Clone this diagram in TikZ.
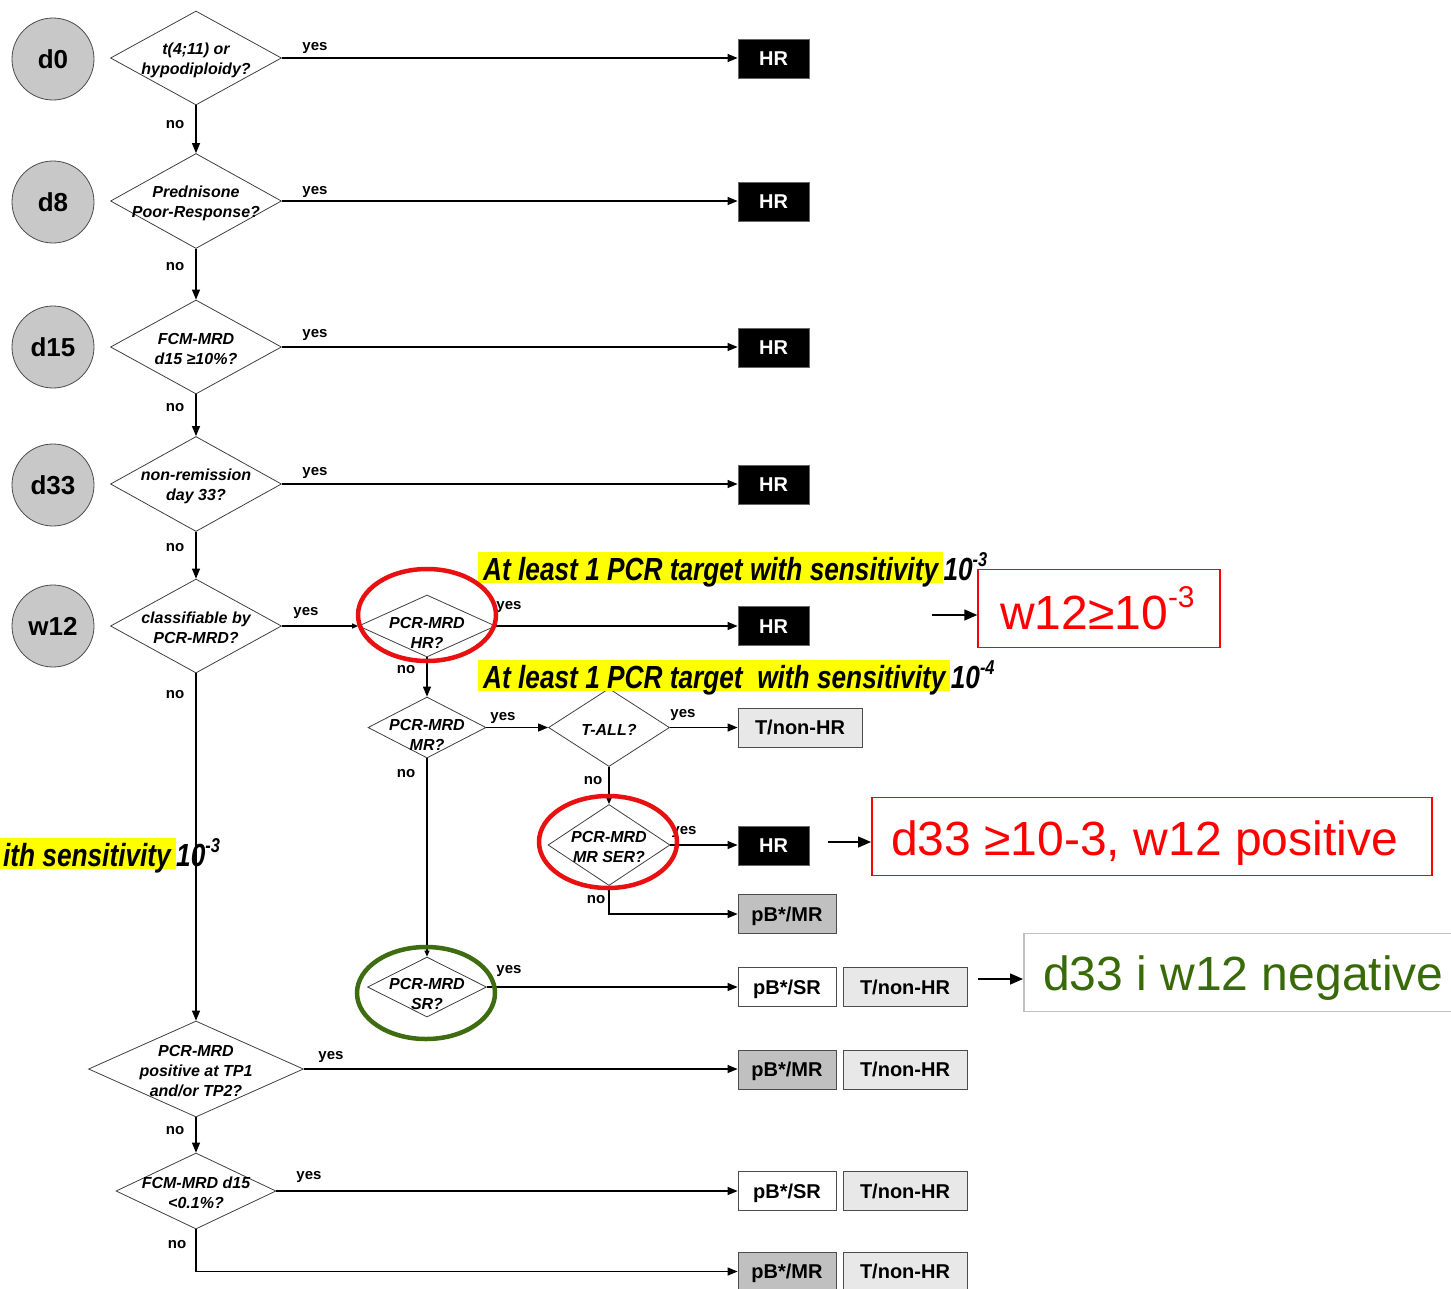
\documentclass[tikz,border=0pt]{standalone}
\usepackage{fontspec}
\setmainfont{Liberation Sans}
\newfontfamily\narrowfam[FakeStretch=0.82]{Liberation Sans}
\usetikzlibrary{shapes.geometric,arrows.meta}
\definecolor{circgray}{RGB}{200,200,200}
\definecolor{boxgray}{RGB}{192,192,192}
\definecolor{lightbox}{RGB}{232,232,232}
\definecolor{ringred}{RGB}{232,16,16}
\definecolor{txtred}{RGB}{255,0,0}
\definecolor{txtgreen}{RGB}{56,106,8}
\definecolor{ringgreen}{RGB}{62,108,16}
\definecolor{hlyellow}{RGB}{255,255,0}
\newcommand{\supm}[1]{\raisebox{0.42em}{\fontsize{20}{20}\selectfont #1}}
\newcommand{\supbig}[1]{\raisebox{0.45em}{\fontsize{30}{30}\selectfont #1}}
\tikzset{
  stage/.style={circle, draw=black!70, fill=circgray, line width=0.8pt, minimum size=82pt, inner sep=0pt,
    font=\fontsize{26}{26}\selectfont\bfseries},
  dia/.style={diamond, draw=black!75, line width=0.8pt, inner sep=0pt, fill=white},
  qtext/.style={font=\fontsize{16}{20}\selectfont\bfseries\itshape, align=center, inner sep=0pt, yshift=-2pt},
  conn/.style={line width=1.2pt, -{Triangle[length=10pt,width=8pt]}},
  connsmall/.style={line width=1.2pt, -{Triangle[length=6pt,width=5pt]}},
  bigarrow/.style={line width=1.6pt, -{Triangle[length=13pt,width=11pt]}},
  lbl/.style={font=\fontsize{15}{15}\selectfont\bfseries, inner sep=0pt, text height=8pt, text depth=0pt},
  hrbox/.style={rectangle, draw=black!60, fill=black, text=white, line width=0.8pt, minimum width=71pt, minimum height=39pt,
    inner sep=0pt, text height=14.5pt, text depth=0pt, font=\fontsize{20}{20}\selectfont\bfseries},
  resbox/.style={rectangle, draw=black!70, line width=0.8pt, minimum height=39pt, inner sep=0pt,
    text height=14.5pt, text depth=0pt, font=\fontsize{20}{20}\selectfont\bfseries},
  pbmr/.style={resbox, fill=boxgray, minimum width=98pt},
  pbsr/.style={resbox, fill=white, minimum width=98pt},
  tnon/.style={resbox, fill=lightbox, minimum width=124pt},
  hl/.style={fill=hlyellow, inner xsep=5pt, inner ysep=0pt, text height=28pt, text depth=3pt,
    font=\narrowfam\fontsize{32}{32}\selectfont\bfseries\itshape},
  hlend/.style={inner sep=0pt, font=\narrowfam\fontsize{32}{32}\selectfont\bfseries\itshape},
  ring/.style={ellipse, draw=ringred, line width=4.5pt, minimum width=138pt, minimum height=92pt, inner sep=0pt},
  note/.style={rectangle, line width=1.5pt, minimum height=78pt, inner sep=0pt},
  notetext/.style={inner sep=0pt, anchor=base west, font=\fontsize{48}{48}\selectfont}
}
\begin{document}
\begin{tikzpicture}[x=1pt,y=-1pt]
\clip (0,0) rectangle (1451,1288);
\fill[white] (0,0) rectangle (1451,1288);

% stage circles
\node[stage] (c0) at (53,59) {d0};
\node[stage] (c8) at (53,202) {d8};
\node[stage] (c15) at (53,347) {d15};
\node[stage] (c33) at (53,485) {d33};
\node[stage] (cw) at (53,626) {w12};

% decision diamonds
\node[dia, minimum width=171pt, minimum height=94pt, label={[qtext]center:{t(4;11) or\\hypodiploidy?}}] (q0) at (196,58) {};
\node[dia, minimum width=171pt, minimum height=95pt, label={[qtext]center:{Prednisone\\Poor-Response?}}] (q8) at (196,201) {};
\node[dia, minimum width=171pt, minimum height=94pt, label={[qtext]center:{FCM-MRD\\d15 ≥10\%?}}] (q15) at (196,347) {};
\node[dia, minimum width=171pt, minimum height=95pt, label={[qtext]center:{non-remission\\day 33?}}] (q33) at (196,484) {};
\node[dia, minimum width=171pt, minimum height=94pt, label={[qtext]center:{classifiable by\\PCR-MRD?}}] (qw) at (196,626) {};
\node[dia, minimum width=137pt, minimum height=62pt, label={[qtext,yshift=-5pt]center:{PCR-MRD\\HR?}}] (qhr) at (427,626) {};
\node[dia, minimum width=118pt, minimum height=61pt, label={[qtext,yshift=-5pt]center:{PCR-MRD\\MR?}}] (qmr) at (427,727.5) {};
\node[dia, minimum width=121pt, minimum height=78pt, label={[qtext]center:{T-ALL?}}] (qtall) at (609,727.5) {};
\node[dia, minimum width=122pt, minimum height=81pt, label={[qtext]center:{PCR-MRD\\MR SER?}}] (qser) at (609,845) {};
\node[dia, minimum width=119pt, minimum height=60pt, label={[qtext,yshift=-5pt]center:{PCR-MRD\\SR?}}] (qsr) at (427,987) {};
\node[dia, minimum width=215pt, minimum height=96pt, label={[qtext]center:{PCR-MRD\\positive at TP1\\and/or TP2?}}] (qpos) at (196,1069) {};
\node[dia, minimum width=160pt, minimum height=76pt, label={[qtext]center:{FCM-MRD d15\\<0.1\%?}}] (qfcm) at (196,1191) {};

% result boxes
\node[hrbox] (hr0) at (773.5,58.5) {HR};
\node[hrbox] (hr8) at (773.5,201.5) {HR};
\node[hrbox] (hr15) at (773.5,347.5) {HR};
\node[hrbox] (hr33) at (773.5,484.5) {HR};
\node[hrbox] (hrw) at (773.5,626) {HR};
\node[hrbox] (hrser) at (773.5,845.5) {HR};
\node[tnon] (tn1) at (800,727.5) {T/non-HR};
\node[pbmr] (pbm1) at (787,914) {pB*/MR};
\node[pbsr] (pbs1) at (787,987) {pB*/SR};
\node[tnon] (tn2) at (905,987) {T/non-HR};
\node[pbmr] (pbm2) at (787,1069.5) {pB*/MR};
\node[tnon] (tn3) at (905,1069.5) {T/non-HR};
\node[pbsr] (pbs2) at (787,1191) {pB*/SR};
\node[tnon] (tn4) at (905,1191) {T/non-HR};
\node[pbmr] (pbm3) at (787,1271.5) {pB*/MR};
\node[tnon] (tn5) at (905,1271.5) {T/non-HR};

% connectors
\draw[conn] (q0.east) -- (q0.east -| hr0.west);
\draw[conn] (q8.east) -- (q8.east -| hr8.west);
\draw[conn] (q15.east) -- (q15.east -| hr15.west);
\draw[conn] (q33.east) -- (q33.east -| hr33.west);
\draw[conn] (q0.south) -- (q8.north);
\draw[conn] (q8.south) -- (q15.north);
\draw[conn] (q15.south) -- (q33.north);
\draw[conn] (q33.south) -- (qw.north);
\draw[connsmall] (qw.east) -- (qhr.west);
\draw[conn] (qw.south) -- (qpos.north);
\draw[conn] (qhr.east) -- (qhr.east -| hrw.west);
\draw[conn] (qhr.south) -- (qmr.north);
\draw[conn] (qmr.east) -- (qtall.west);
\draw[conn] (qtall.east) -- (tn1.west);
\draw[connsmall] (qtall.south) -- (qser.north);
\draw[conn] (qser.east) -- (qser.east -| hrser.west);
\draw[conn] (qser.south) |- (pbm1.west);
\draw[connsmall] (qmr.south) -- (qsr.north);
\draw[conn] (qsr.east) -- (qsr.east -| pbs1.west);
\draw[conn] (qpos.east) -- (qpos.east -| pbm2.west);
\draw[conn] (qpos.south) -- (qfcm.north);
\draw[conn] (qfcm.east) -- (qfcm.east -| pbs2.west);
\draw[conn] (qfcm.south) |- (pbm3.west);

% yes / no labels
\node[lbl] (y0) at (315,46) {yes};
\node[lbl] (y8) at (315,190) {yes};
\node[lbl] (y15) at (315,333) {yes};
\node[lbl] (y33) at (315,471) {yes};
\node[lbl] (yw) at (306,611) {yes};
\node[lbl] (yhr) at (509,605) {yes};
\node[lbl] (ymr) at (503,716) {yes};
\node[lbl] (ytall) at (683,713) {yes};
\node[lbl] (yser) at (684,830) {yes};
\node[lbl] (ysr) at (509,969) {yes};
\node[lbl] (ypos) at (331,1055) {yes};
\node[lbl] (yfcm) at (309,1175) {yes};
\node[lbl] (n0) at (175,124) {no};
\node[lbl] (n8) at (175,266) {no};
\node[lbl] (n15) at (175,407) {no};
\node[lbl] (n33) at (175,547) {no};
\node[lbl] (nw) at (175,694) {no};
\node[lbl] (nhr) at (406,669) {no};
\node[lbl] (nmr) at (406,773) {no};
\node[lbl] (ntall) at (593,780) {no};
\node[lbl] (nser) at (596,899) {no};
\node[lbl] (npos) at (175,1130) {no};
\node[lbl] (nfcm) at (177,1244) {no};

% highlighted annotations
\node[hl, anchor=base west] (hl1) at (478,580) {At least 1 PCR target with sensitivity};
\node[hlend, anchor=base west] (hl1e) at (hl1.base east) {10\supm{-3}};
\node[hl, anchor=base west] (hl2) at (478,688) {At least 1 PCR target~ with sensitivity};
\node[hlend, anchor=base west] (hl2e) at (hl2.base east) {10\supm{-4}};
\node[hl, anchor=base east] (hl3) at (176,866) {ith sensitivity};
\node[hlend, anchor=base west] (hl3e) at (hl3.base east) {10\supm{-3}};

% rings
\node[ring] (r1) at (427,615) {};
\node[ring] (r2) at (608,842) {};
\node[ring, draw=ringgreen] (r3) at (426,993) {};

% notes
\node[note, draw=txtred, minimum width=242pt] (nt1) at (1099,608.5) {};
\node[notetext, text=txtred] (nt1t) at (1000,629) {w12≥10\supbig{-3}};
\node[note, draw=txtred, minimum width=560pt, anchor=west] (nt2) at (871,836.5) {};
\node[notetext, text=txtred] (nt2t) at (891,855) {d33 ≥10-3, w12 positive};
\node[note, draw=boxgray, minimum width=437pt, anchor=west] (nt3) at (1023,972.5) {};
\node[notetext, text=txtgreen] (nt3t) at (1043,990) {d33 i w12 negative};

\coordinate (a1) at (932,615);
\coordinate (a2) at (828,842);
\coordinate (a3) at (978,979);
\draw[bigarrow] (a1) -- (a1 -| nt1.west);
\draw[bigarrow] (a2) -- (a2 -| nt2.west);
\draw[bigarrow] (a3) -- (a3 -| nt3.west);
\end{tikzpicture}
\end{document}
